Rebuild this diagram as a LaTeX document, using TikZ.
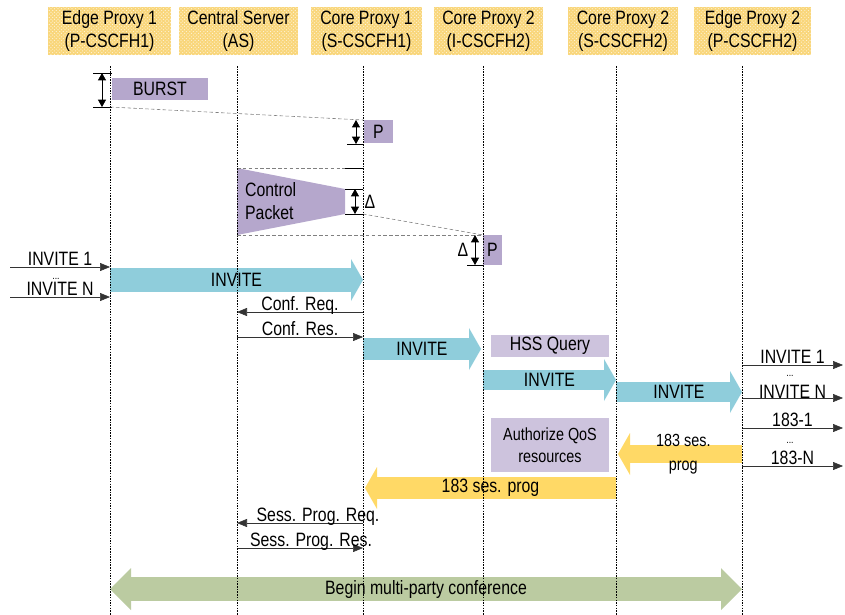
\documentclass[tikz,border=0pt]{standalone}
\usepackage{fontspec}
\setmainfont{Liberation Sans}[FakeStretch=0.82]
\usetikzlibrary{arrows.meta,calc,patterns}

\definecolor{hdrYellow}{RGB}{249,214,122}
\definecolor{burstPurple}{RGB}{181,167,204}
\definecolor{taskPurple}{RGB}{205,195,221}
\definecolor{inviteCyan}{RGB}{143,205,219}
\definecolor{progYellow}{RGB}{255,217,102}
\definecolor{confGreen}{RGB}{187,203,161}

\begin{document}
\begin{tikzpicture}[
  x=0.3mm, y=-0.3mm,
  font=\fontsize{16.5}{19}\selectfont,
  head/.style={preaction={fill=hdrYellow}, pattern=crosshatch dots,
    pattern color=white!75!hdrYellow, minimum height=14.4mm, inner sep=0pt,
    align=center, font=\fontsize{16.5}{19.5}\selectfont},
  life/.style={line width=0.7pt, dash pattern=on 1.3pt off 1pt},
  msg/.style={draw=black!80, line width=0.5pt, -{Triangle[length=3mm,width=2.4mm]}},
  lbl/.style={anchor=base, inner sep=0pt, yshift=1.5pt},
  ellip/.style={font=\fontsize{9}{9}\selectfont, inner sep=0pt},
  timing/.style={draw=black!50, line width=0.5pt, dash pattern=on 3pt off 2pt},
  limit/.style={line width=0.5pt},
  delay/.style={line width=0.6pt,
    {Triangle[length=2.2mm,width=2.4mm]}-{Triangle[length=2.2mm,width=2.4mm]}},
  box/.style={fill=burstPurple, inner sep=0pt},
  task/.style={fill=taskPurple, inner sep=0pt, align=center},
  fat/.style={line width=6.6mm, -{Triangle[width=12.6mm,length=3.6mm,line width=0pt]}},
  invite/.style={fat, draw=inviteCyan},
  progress/.style={fat, draw=progYellow},
  together/.style={line width=7.2mm, draw=confGreen,
    {Triangle[width=12.6mm,length=6.3mm,line width=0pt]}-{Triangle[width=12.6mm,length=6.3mm,line width=0pt]}}
]
  \useasboundingbox (0,0) rectangle (845,615);

  % Lifeline positions
  \coordinate (E1) at (110,66);
  \coordinate (AS) at (237,66);
  \coordinate (C1) at (363,66);
  \coordinate (I2) at (483,66);
  \coordinate (S2) at (616,66);
  \coordinate (E2) at (742,66);
  \coordinate (W) at (10,0);
  \coordinate (X) at (843,0);

  % Header boxes
  \node[head, minimum width=36.9mm] (hE1) at (109.5,31) {Edge Proxy 1\\(P-CSCFH1)};
  \node[head, minimum width=35.7mm] (hAS) at (238.5,31) {Central Server\\(AS)};
  \node[head, minimum width=33.3mm] (hC1) at (366.5,31) {Core Proxy 1\\(S-CSCFH1)};
  \node[head, minimum width=32.7mm] (hI2) at (488.5,31) {Core Proxy 2\\(I-CSCFH2)};
  \node[head, minimum width=33mm] (hS2) at (623,31) {Core Proxy 2\\(S-CSCFH2)};
  \node[head, minimum width=35.1mm] (hE2) at (752.5,31) {Edge Proxy 2\\(P-CSCFH2)};

  % Burst and first processing delay
  \node[box, minimum width=28.8mm, minimum height=6.6mm] (burst) at (160,89) {BURST};
  \draw[limit] (93,73) -- (112,73);
  \draw[limit] (93,107) -- (112,107);
  \draw[delay] (102,73) -- (102,107);
  \draw[timing] (110,107) -- (363,120);
  \node[box, minimum width=8.7mm, minimum height=6.9mm] (p1) at (378.5,131.5) {P};
  \draw[limit] (347,144) -- (363,144);
  \draw[delay] (356,120) -- (356,144);

  % Control packet
  \fill[burstPurple] (237,168) -- (345,189) -- (345,214) -- (237,235) -- cycle;
  \node[align=left, anchor=west, font=\fontsize{16.5}{19.5}\selectfont] (ctrl)
    at (241,201) {Control\\Packet};
  \draw[timing] (237,168) -- (363,168);
  \draw[limit] (345,168) -- (363,168);
  \draw[limit] (345,189) -- (363,189);
  \draw[limit] (345,214) -- (363,214);
  \draw[delay] (355,189) -- (355,214);
  \node (d1) at (370,202) {Δ};
  \draw[timing] (363,214) -- (483,235);
  \draw[timing] (237,235) -- (483,235);
  \node[box, minimum width=5.7mm, minimum height=9mm] (p2) at (492.5,250) {P};
  \draw[limit] (467,265) -- (483,265);
  \draw[delay] (475,235) -- (475,265);
  \node (d2) at (463,250) {Δ};

  % Incoming invites
  \draw[msg] (W |- 0,267) -- (E1 |- 0,267) node[lbl, midway] {INVITE 1};
  \node[ellip] (dl) at (56,279) {...};
  \draw[msg] (W |- 0,297) -- (E1 |- 0,297) node[lbl, midway] {INVITE N};
  \draw[invite, line width=7.2mm] (E1 |- 0,280) -- (C1 |- 0,280) node[midway] {INVITE};

  % Conference set-up with the AS
  \draw[msg] (C1 |- 0,312) -- (AS |- 0,312) node[lbl, midway] {Conf. Req.};
  \draw[msg] (AS |- 0,337) -- (C1 |- 0,337) node[lbl, midway] {Conf. Res.};
  \draw[invite] ($(C1 |- 0,349)$) -- ($(I2 |- 0,349)+(-2,0)$) node[midway] {INVITE};
  \node[task, minimum width=35.4mm, minimum height=6.6mm] (hss) at (550,346) {HSS Query};
  \draw[invite, line width=6mm] (I2 |- 0,380) -- (S2 |- 0,380) node[midway] {INVITE};
  \draw[invite, line width=6mm] (S2 |- 0,392) -- (E2 |- 0,392) node[midway] {INVITE};

  % Outgoing invites and answers
  \draw[msg] (E2 |- 0,365) -- (X |- 0,365) node[lbl, midway] {INVITE 1};
  \node[ellip] (dr1) at (790,376) {...};
  \draw[msg] (E2 |- 0,398) -- (X |- 0,398) node[lbl, midway, yshift=-1.5pt] {INVITE N};
  \draw[msg] (E2 |- 0,428) -- (X |- 0,428) node[lbl, midway] {183-1};
  \node[ellip] (dr2) at (790,443) {...};
  \draw[msg] (E2 |- 0,466) -- (X |- 0,466) node[lbl, midway] {183-N};

  % Session progress
  \node[task, minimum width=35.4mm, minimum height=16.2mm,
    font=\fontsize{15}{19}\selectfont] (qos) at (550,445) {Authorize QoS\\resources};
  \draw[progress, line width=5.2mm] (E2 |- 0,454) -- ($(S2 |- 0,454)+(2,0)$)
    node[midway, xshift=1mm, align=center, font=\fontsize{15}{21}\selectfont] {183 ses.\\prog};
  \draw[progress] (S2 |- 0,488) -- ($(C1 |- 0,488)+(2,0)$) node[midway] {183 ses. prog};
  \draw[msg] (C1 |- 0,523) -- (AS |- 0,523) node[lbl, midway, xshift=5.4mm] {Sess. Prog. Req.};
  \draw[msg] (AS |- 0,548) -- (C1 |- 0,548) node[lbl, midway, xshift=3.3mm] {Sess. Prog. Res.};

  % Conference starts
  \draw[together] (E1 |- 0,589) -- (E2 |- 0,589) node[midway] {Begin multi-party conference};

  % Lifelines on top
  \foreach \l in {E1,AS,C1,I2,S2,E2}
    \draw[life] (\l) -- (\l |- 0,615);
\end{tikzpicture}
\end{document}
